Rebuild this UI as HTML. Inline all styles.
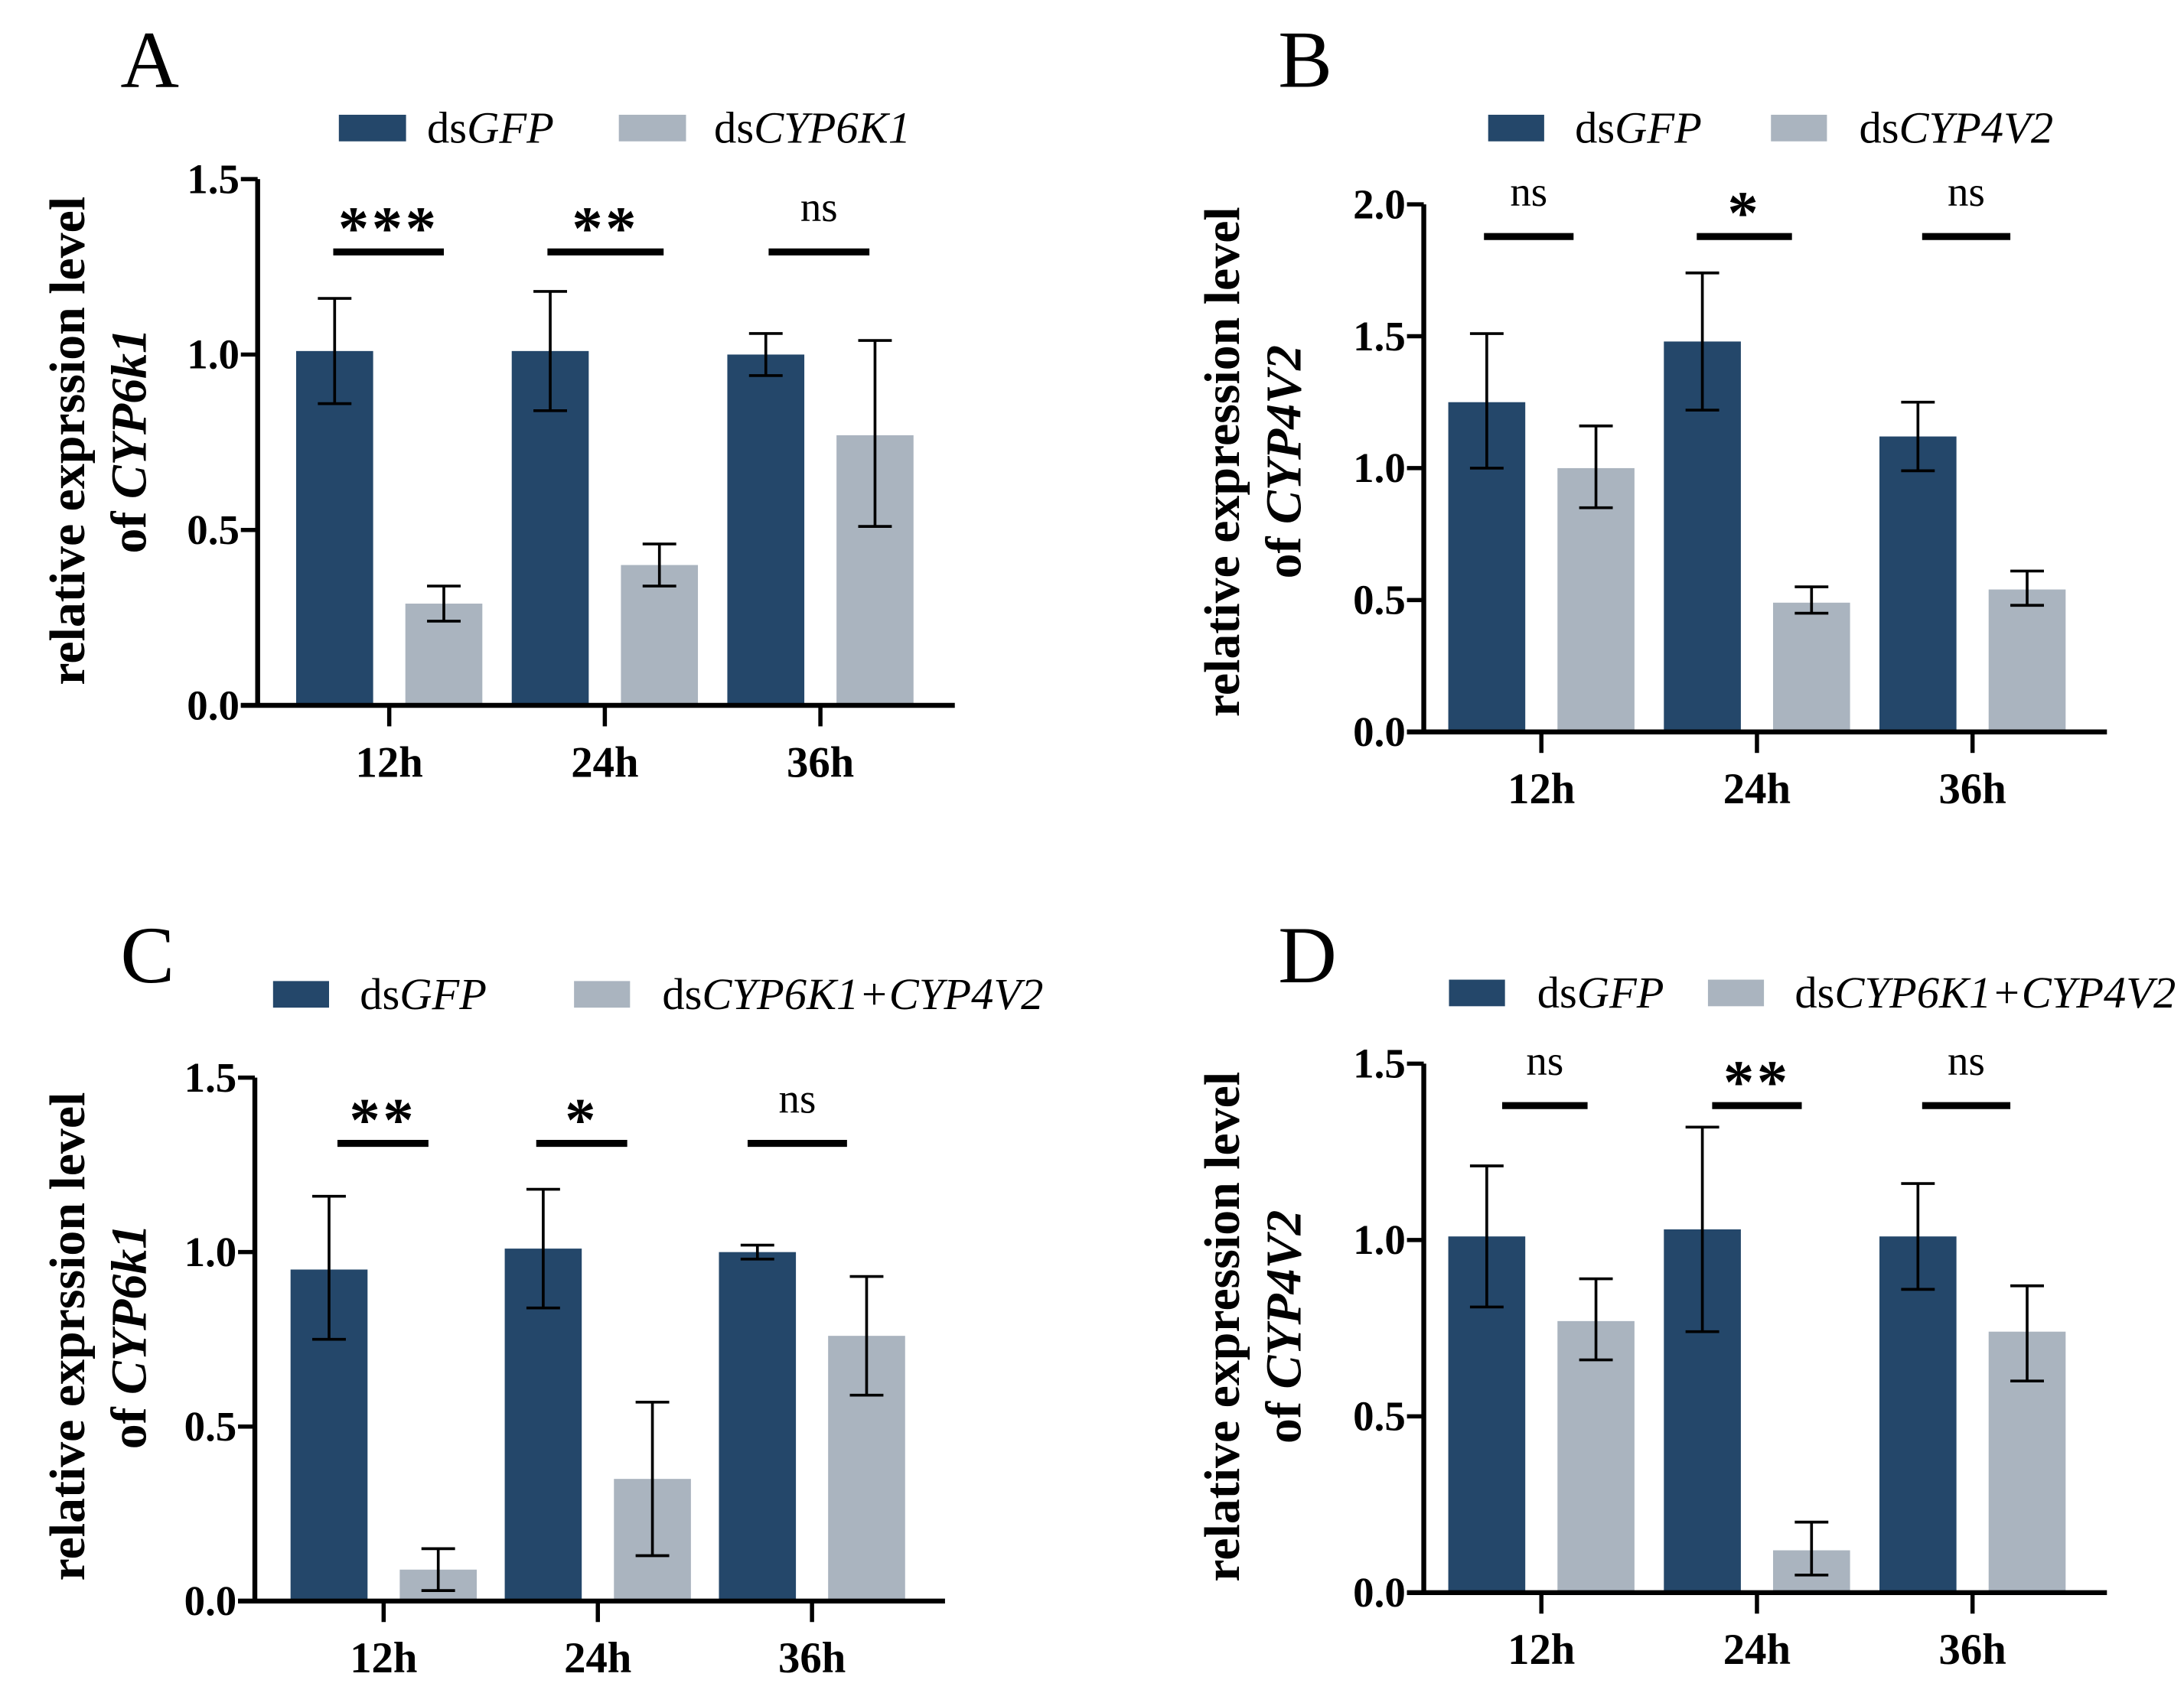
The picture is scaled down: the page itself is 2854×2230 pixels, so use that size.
<!DOCTYPE html>
<html><head><meta charset="utf-8"><style>
html,body{margin:0;padding:0;background:#fff;}
svg{display:block;}
text{font-family:"Liberation Serif","Times New Roman",serif;}
</style></head>
<body>
<svg id="fig" width="2854" height="2230" viewBox="0 0 1560 1219" xmlns="http://www.w3.org/2000/svg">
<rect x="0" y="0" width="1560" height="1219" fill="#fff"/>
</svg>
<script>
// ---- data ----
const categories = ["12h","24h","36h"];
// Panel A
const aGfp = [1.01, 1.01, 1.00];
const aGfpErrLo = [0.86, 0.84, 0.94];
const aGfpErrHi = [1.16, 1.18, 1.06];
const aKd = [0.29, 0.40, 0.77];
const aKdErrLo = [0.24, 0.34, 0.51];
const aKdErrHi = [0.34, 0.46, 1.04];
const aSig = ["***","**","ns"];
const aTicks = ["0.0","0.5","1.0","1.5"];
// Panel B
const bGfp = [1.25, 1.48, 1.12];
const bGfpErrLo = [1.00, 1.22, 0.99];
const bGfpErrHi = [1.51, 1.74, 1.25];
const bKd = [1.00, 0.49, 0.54];
const bKdErrLo = [0.85, 0.45, 0.48];
const bKdErrHi = [1.16, 0.55, 0.61];
const bSig = ["ns","*","ns"];
const bTicks = ["0.0","0.5","1.0","1.5","2.0"];
// Panel C
const cGfp = [0.95, 1.01, 1.00];
const cGfpErrLo = [0.75, 0.84, 0.98];
const cGfpErrHi = [1.16, 1.18, 1.02];
const cKd = [0.09, 0.35, 0.76];
const cKdErrLo = [0.03, 0.13, 0.59];
const cKdErrHi = [0.15, 0.57, 0.93];
const cSig = ["**","*","ns"];
const cTicks = ["0.0","0.5","1.0","1.5"];
// Panel D
const dGfp = [1.01, 1.03, 1.01];
const dGfpErrLo = [0.81, 0.74, 0.86];
const dGfpErrHi = [1.21, 1.32, 1.16];
const dKd = [0.77, 0.12, 0.74];
const dKdErrLo = [0.66, 0.05, 0.60];
const dKdErrHi = [0.89, 0.20, 0.87];
const dSig = ["ns","**","ns"];
const dTicks = ["0.0","0.5","1.0","1.5"];

const NS = "http://www.w3.org/2000/svg";
const svg = document.getElementById("fig");
const DARK = "#24476a", LIGHT = "#aab4bf";
function mk(tag, attrs, parent, txt){
  const e = document.createElementNS(NS, tag);
  for (const k in attrs) e.setAttribute(k, attrs[k]);
  if (txt !== undefined) e.textContent = txt;
  (parent || svg).appendChild(e);
  return e;
}

function panel(cfg){
  const g = mk("g", {});
  
  
  const ymax = parseFloat(cfg.ticks[cfg.ticks.length-1]);
  const yS = v => cfg.y0 - (v / ymax) * (cfg.y0 - cfg.yTop);
  const xC = i => cfg.cx0 + i * cfg.step;
  const L = mk("text", {x: cfg.lx, y: cfg.ly, "font-size": 58}, g, cfg.letter);
  
  
  const lg = mk("g", {}, g);
  
  
  mk("rect", {x: cfg.leg[0], y: cfg.legY-9, width: cfg.legW, height: 19, fill: DARK}, lg);
  const t1 = mk("text", {x: cfg.leg[1], y: cfg.legY+11, "font-size": 32}, lg);
  
  
  mk("tspan", {}, t1, "ds"); mk("tspan", {"font-style": "italic"}, t1, "GFP");
  mk("rect", {x: cfg.leg[2], y: cfg.legY-9, width: cfg.legW, height: 19, fill: LIGHT}, lg);
  const t2 = mk("text", {x: cfg.leg[3], y: cfg.legY+11, "font-size": 32}, lg);
  
  
  mk("tspan", {}, t2, "ds"); mk("tspan", {"font-style": "italic"}, t2, cfg.kdName);
  const at = mk("text", {transform: `translate(${cfg.titleX},${cfg.titleY}) rotate(-90)`, "text-anchor": "middle", "font-size": 36, "font-weight": "bold"}, g);
  
  
  mk("tspan", {x: 0, y: 0}, at, cfg.title1);
  mk("tspan", {x: 0, y: 44}, at, "of ");
  mk("tspan", {"font-style": "italic"}, at, cfg.gene);
  for (let i = 0; i < categories.length; i++){
    const cx = xC(i), bw = 55;
    const series = [[cfg.gfp, cfg.gLo, cfg.gHi, DARK, -39, 'gfp'], [cfg.kd, cfg.kLo, cfg.kHi, LIGHT, 39, 'kd']];
    for (const s of series){
      const bx = cx + s[4] - bw/2;
      const b = mk("rect", {x: bx, y: yS(s[0][i]), width: bw, height: cfg.y0 - yS(s[0][i]), fill: s[3]}, g);
      
      
      const ex = cx + s[4];
      const eb = mk("path", {d: `M${ex},${yS(s[1][i])}V${yS(s[2][i])}M${ex-12},${yS(s[1][i])}H${ex+12}M${ex-12},${yS(s[2][i])}H${ex+12}`, stroke: "#000", "stroke-width": 2, fill: "none"}, g);
      
      
    }
    const sl = mk("line", {x1: cx + cfg.sigL[i], x2: cx + cfg.sigR[i], y1: cfg.sigY, y2: cfg.sigY, stroke: "#000", "stroke-width": 5}, g);
    
    
    const lab = cfg.sig[i];
    const isStar = lab.indexOf("*") >= 0;
    const st = mk("text", {x: cx + (cfg.sigL[i]+cfg.sigR[i])/2, y: isStar ? cfg.sigY - 2 : cfg.sigY - 22, "text-anchor": "middle", "font-size": isStar ? 44 : 30, "font-family": isStar ? '"Liberation Sans",sans-serif' : '"Liberation Serif",serif', "font-weight": isStar ? "bold" : "normal", "letter-spacing": isStar ? 2 : 0}, g, lab);
    
    
    mk("line", {x1: cx, x2: cx, y1: cfg.y0, y2: cfg.y0 + 15, stroke: "#000", "stroke-width": 3}, g);
    const xl = mk("text", {x: cx, y: cfg.y0 + 51, "text-anchor": "middle", "font-size": 31, "font-weight": "bold"}, g, categories[i]);
    
    
  }
  const ya = mk("line", {x1: cfg.ax, x2: cfg.ax, y1: cfg.yTop, y2: cfg.y0 + 1.5, stroke: "#000", "stroke-width": 3.5}, g);
  
  
  const xa = mk("line", {x1: cfg.ax - 12, x2: cfg.xEnd, y1: cfg.y0, y2: cfg.y0, stroke: "#000", "stroke-width": 3.5}, g);
  
  
  for (const t of cfg.ticks){
    const y = yS(parseFloat(t));
    mk("line", {x1: cfg.ax - 12, x2: cfg.ax, y1: y, y2: y, stroke: "#000", "stroke-width": 3}, g);
    const tl = mk("text", {x: cfg.ax - 13, y: y + 10, "text-anchor": "end", "font-size": 30, "font-weight": "bold"}, g, t);
    
    
  }
}

panel({letter:"A", lx:86, ly:62, leg:[242,305,442,510], legW:48, legY:91, kdName:"CYP6K1",
  title1:"relative exprssion level", gene:"CYP6k1", titleX:60, titleY:315,
  ax:184, y0:504, yTop:128, xEnd:682, cx0:278, step:154, ticks:aTicks,
  gfp:aGfp, gLo:aGfpErrLo, gHi:aGfpErrHi, kd:aKd, kLo:aKdErrLo, kHi:aKdErrHi,
  sig:aSig, sigY:180, sigL:[-40,-41,-37], sigR:[39,42,35]});
panel({letter:"B", lx:913, ly:62, leg:[1063,1125,1265,1328], legW:40, legY:91, kdName:"CYP4V2",
  title1:"relative expression level", gene:"CYP4V2", titleX:885, titleY:330,
  ax:1017, y0:523, yTop:146, xEnd:1505, cx0:1101, step:154, ticks:bTicks,
  gfp:bGfp, gLo:bGfpErrLo, gHi:bGfpErrHi, kd:bKd, kLo:bKdErrLo, kHi:bKdErrHi,
  sig:bSig, sigY:169, sigL:[-41,-43,-36], sigR:[23,25,27]});
panel({letter:"C", lx:86, ly:702, leg:[195,257,410,473], legW:40, legY:710, kdName:"CYP6K1+CYP4V2",
  title1:"relative exprssion level", gene:"CYP6k1", titleX:60, titleY:955,
  ax:182, y0:1144, yTop:770, xEnd:675, cx0:274, step:153, ticks:cTicks,
  gfp:cGfp, gLo:cGfpErrLo, gHi:cGfpErrHi, kd:cKd, kLo:cKdErrLo, kHi:cKdErrHi,
  sig:cSig, sigY:817, sigL:[-33,-44,-46], sigR:[32,21,25]});
panel({letter:"D", lx:913, ly:702, leg:[1035,1098,1220,1282], legW:40, legY:709, kdName:"CYP6K1+CYP4V2",
  title1:"relative expression level", gene:"CYP4V2", titleX:885, titleY:948,
  ax:1017, y0:1138, yTop:760, xEnd:1505, cx0:1101, step:154, ticks:dTicks,
  gfp:dGfp, gLo:dGfpErrLo, gHi:dGfpErrHi, kd:dKd, kLo:dKdErrLo, kHi:dKdErrHi,
  sig:dSig, sigY:790, sigL:[-28,-32,-36], sigR:[33,32,27]});
</script>
</body></html>
